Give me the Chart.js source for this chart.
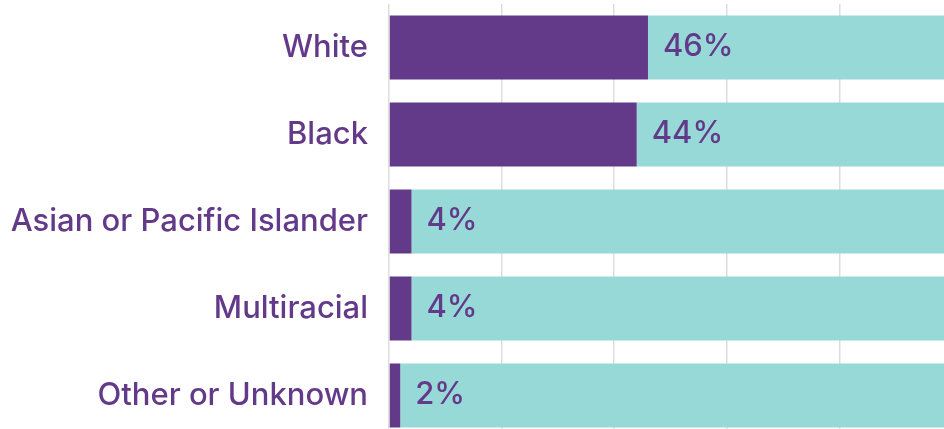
<!DOCTYPE html>
<html>
<head>
<meta charset="utf-8">
<script src="https://cdn.jsdelivr.net/npm/chart.js@4"></script>
<style>
  html, body { margin: 0; padding: 0; background: #fff; overflow: hidden; }
  #wrap { width: 952px; height: 440px; }
</style>
</head>
<body>
<div id="wrap"><canvas id="raceChart"></canvas></div>
<script>
const categories = ['White', 'Black', 'Asian or Pacific Islander', 'Multiracial', 'Other or Unknown'];
const shares = [46, 44, 4, 4, 2];
const remainder = shares.map(v => 100 - v);

const purple = '#63398a';
const teal = '#97d9d6';
const labelFont = {family: 'Inter', size: 31, weight: '500'};

// draws the "46%" style labels just past the end of the purple bars
const shareLabels = {
  id: 'shareLabels',
  afterDatasetsDraw(chart) {
    const ctx = chart.ctx;
    const meta = chart.getDatasetMeta(0);
    ctx.save();
    ctx.font = labelFont.weight + ' ' + labelFont.size + 'px ' + labelFont.family;
    ctx.fillStyle = purple;
    ctx.textAlign = 'left';
    ctx.textBaseline = 'middle';
    meta.data.forEach((bar, i) => {
      ctx.fillText(shares[i] + '%', bar.x + 15, bar.y - 1);
    });
    ctx.restore();
  }
};

new Chart(document.getElementById('raceChart'), {
  type: 'bar',
  data: {
    labels: categories,
    datasets: [
      {data: shares, backgroundColor: purple, barPercentage: 1, categoryPercentage: 0.736},
      {data: remainder, backgroundColor: teal, barPercentage: 1, categoryPercentage: 0.736}
    ]
  },
  options: {
    indexAxis: 'y',
    responsive: true,
    maintainAspectRatio: false,
    animation: false,
    layout: {padding: {top: 4, bottom: 1, left: 0, right: 0}},
    plugins: {
      legend: {display: false},
      tooltip: {enabled: false}
    },
    scales: {
      x: {
        stacked: true,
        min: 0,
        max: 100,
        ticks: {display: false, stepSize: 20},
        grid: {color: '#dddddd', lineWidth: 1.5, drawTicks: false},
        border: {display: false}
      },
      y: {
        stacked: true,
        afterFit(scale) {
          scale.width = 389;
          scale.paddingTop = 0;
          scale.paddingBottom = 0;
        },
        ticks: {
          padding: 21,
          color: purple,
          font: labelFont
        },
        grid: {display: false, drawTicks: false},
        border: {display: false}
      }
    }
  },
  plugins: [shareLabels]
});
</script>
</body>
</html>
